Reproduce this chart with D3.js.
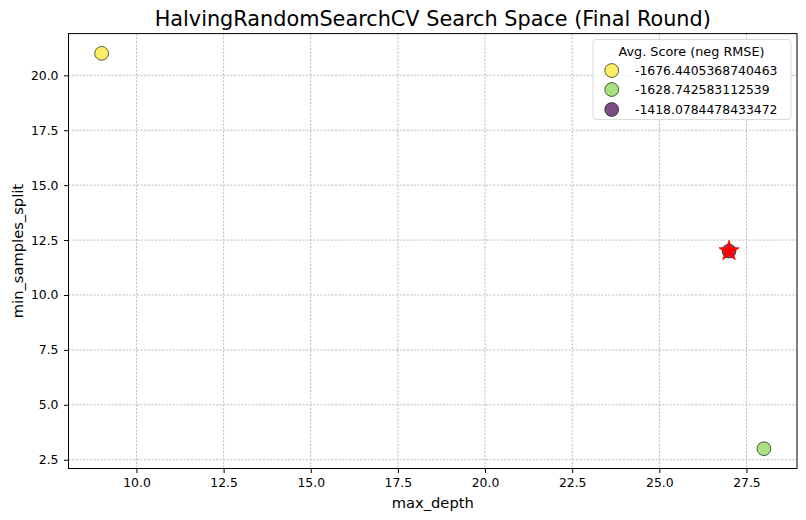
<!DOCTYPE html>
<html>
<head>
<meta charset="utf-8">
<script src="https://cdn.jsdelivr.net/npm/d3@7/dist/d3.min.js"></script>
<style>
  body { margin: 0; background: #fff; }
  svg { display: block; font-family: "DejaVu Sans", sans-serif; }
</style>
</head>
<body>
<svg id="chart" width="806" height="520"></svg>
<script>
// Data
const maxDepth = [9, 28, 27];
const minSamplesSplit = [21, 3, 12];
const scores = [-1676.4405368740463, -1628.742583112539, -1418.0784478433472];
const scoreLabels = ["-1676.4405368740463", "-1628.742583112539", "-1418.0784478433472"];
const best = { max_depth: 27, min_samples_split: 12 };
const xTicks = [10.0, 12.5, 15.0, 17.5, 20.0, 22.5, 25.0, 27.5];
const yTicks = [2.5, 5.0, 7.5, 10.0, 12.5, 15.0, 17.5, 20.0];

const svg = d3.select("#chart");
const L = 68.5, R = 797, T = 33.6, B = 468.5;

const x = d3.scaleLinear().domain([8.05, 28.95]).range([L, R]);
const y = d3.scaleLinear().domain([2.1, 21.9]).range([B, T]);
// colour by RMSE (negated score): high RMSE -> yellow
const c = d3.scaleSequential(d3.interpolateViridis)
  .domain([d3.min(scores, s => -s), d3.max(scores, s => -s)]);

// Grid
const grid = svg.append("g");
grid.selectAll(".gx").data(xTicks).join("line")
  .attr("x1", d => x(d)).attr("x2", d => x(d)).attr("y1", T).attr("y2", B)
  .attr("stroke", "#a8a8a8").attr("stroke-width", 0.8).attr("stroke-dasharray", "2,1.6");
grid.selectAll(".gy").data(yTicks).join("line")
  .attr("y1", d => y(d)).attr("y2", d => y(d)).attr("x1", L).attr("x2", R)
  .attr("stroke", "#a8a8a8").attr("stroke-width", 0.8).attr("stroke-dasharray", "2,1.6");

// Axes
const xAxis = d3.axisBottom(x).tickValues(xTicks).tickFormat(d3.format(".1f")).tickSize(4.5).tickPadding(5.5);
const yAxis = d3.axisLeft(y).tickValues(yTicks).tickFormat(d3.format(".1f")).tickSize(4.5).tickPadding(5.5);
const gx = svg.append("g").attr("transform", `translate(0,${B})`).call(xAxis);
const gy = svg.append("g").attr("transform", `translate(${L},0)`).call(yAxis);
[gx, gy].forEach(g => {
  g.select(".domain").remove();
  g.selectAll("text").attr("font-size", 12.4).attr("fill", "#000").attr("font-family", "DejaVu Sans");
  g.selectAll("line").attr("stroke", "#000").attr("stroke-width", 1);
});

// Points
const pts = maxDepth.map((d, i) => ({ x: d, y: minSamplesSplit[i], s: scores[i] }));
svg.append("g").selectAll("circle").data(pts).join("circle")
  .attr("cx", d => x(d.x)).attr("cy", d => y(d.y)).attr("r", 6.9)
  .attr("fill", d => c(-d.s)).attr("fill-opacity", 0.7)
  .attr("stroke", "#000").attr("stroke-opacity", 0.7).attr("stroke-width", 0.9);

// Best star
const star = d3.symbol().type(d3.symbolStar).size(128);
svg.append("path").attr("d", star())
  .attr("transform", `translate(${x(best.max_depth)},${y(best.min_samples_split)})`)
  .attr("fill", "red").attr("stroke", "red").attr("stroke-width", 0.8);

// Frame
svg.append("rect").attr("x", L).attr("y", T).attr("width", R - L).attr("height", B - T)
  .attr("fill", "none").attr("stroke", "#000").attr("stroke-width", 1);

// Titles
svg.append("text").attr("x", (L + R) / 2).attr("y", 26).attr("text-anchor", "middle")
  .attr("font-size", 20.8).text("HalvingRandomSearchCV Search Space (Final Round)");
svg.append("text").attr("x", (L + R) / 2).attr("y", 508).attr("text-anchor", "middle")
  .attr("font-size", 14.7).text("max_depth");
svg.append("text").attr("transform", `translate(23,${(T + B) / 2}) rotate(-90)`).attr("text-anchor", "middle")
  .attr("font-size", 14.7).text("min_samples_split");

// Legend
const lg = svg.append("g");
lg.append("rect").attr("x", 593).attr("y", 39.5).attr("width", 198).attr("height", 80).attr("rx", 3)
  .attr("fill", "#fff").attr("fill-opacity", 0.8).attr("stroke", "#d0d0d0").attr("stroke-width", 0.8);
lg.append("text").attr("x", 691.5).attr("y", 56).attr("text-anchor", "middle").attr("font-size", 12.8)
  .text("Avg. Score (neg RMSE)");
const ly = [70.5, 89.5, 109.5];
scores.forEach((s, i) => {
  lg.append("circle").attr("cx", 611.7).attr("cy", ly[i]).attr("r", 6.9)
    .attr("fill", c(-s)).attr("fill-opacity", 0.7)
    .attr("stroke", "#000").attr("stroke-opacity", 0.7).attr("stroke-width", 0.9);
  lg.append("text").attr("x", 635).attr("y", ly[i] + 4.5).attr("font-size", 12.4).text(scoreLabels[i]);
});
</script>
</body>
</html>
